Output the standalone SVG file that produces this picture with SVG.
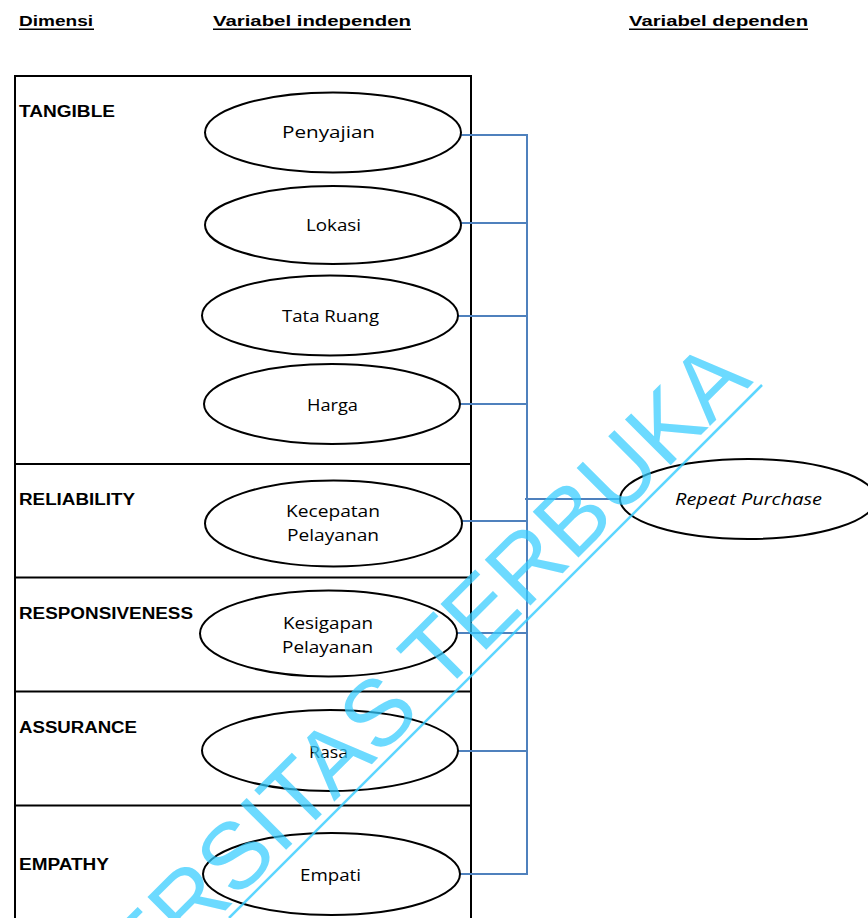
<svg xmlns="http://www.w3.org/2000/svg" width="868" height="918" viewBox="0 0 868 918">
<style>
.hdr{font-family:"Liberation Sans",Arial,sans-serif;font-weight:bold;font-size:15px;fill:#000}
.ul{stroke:#000;stroke-width:1.6}
.dim{font-family:"Liberation Sans",Arial,sans-serif;font-weight:bold;font-size:16px;fill:#000}
.box{fill:none;stroke:#000;stroke-width:2}
.ell{fill:#fff;stroke:#000;stroke-width:2}
.lbl{font-family:"Open Sans","Noto Sans",sans-serif;font-size:16px;fill:#000}
.con{stroke:#4F81BD;stroke-width:2;fill:none}
.wm{font-family:"Liberation Sans",Arial,sans-serif;font-size:94px;fill:#33CCFF;fill-opacity:0.72}
</style>
<rect width="868" height="918" fill="#fff"/>
<g id="headers">
<text class="hdr" x="19" y="26" textLength="74" lengthAdjust="spacingAndGlyphs">Dimensi</text>
<line class="ul" x1="19" y1="29.3" x2="94" y2="29.3"/>
<text class="hdr" x="213" y="26" textLength="198" lengthAdjust="spacingAndGlyphs">Variabel independen</text>
<line class="ul" x1="213" y1="29.3" x2="411" y2="29.3"/>
<text class="hdr" x="629" y="26" textLength="179" lengthAdjust="spacingAndGlyphs">Variabel dependen</text>
<line class="ul" x1="629" y1="29.3" x2="808" y2="29.3"/>
</g>
<g id="dimension-table">
<path class="box" d="M15,920 V76 H471 V920"/>
<line class="box" x1="15" y1="464" x2="471" y2="464"/>
<line class="box" x1="15" y1="577.5" x2="471" y2="577.5"/>
<line class="box" x1="15" y1="691.5" x2="471" y2="691.5"/>
<line class="box" x1="15" y1="805.5" x2="471" y2="805.5"/>
<text class="dim" x="19" y="117" textLength="96" lengthAdjust="spacingAndGlyphs">TANGIBLE</text>
<text class="dim" x="19" y="505" textLength="116" lengthAdjust="spacingAndGlyphs">RELIABILITY</text>
<text class="dim" x="19" y="619" textLength="174" lengthAdjust="spacingAndGlyphs">RESPONSIVENESS</text>
<text class="dim" x="19" y="733" textLength="118" lengthAdjust="spacingAndGlyphs">ASSURANCE</text>
<text class="dim" x="19" y="870" textLength="90" lengthAdjust="spacingAndGlyphs">EMPATHY</text>
</g>
<g id="connectors">
<line class="con" x1="527" y1="135" x2="527" y2="875"/>
<line class="con" x1="461" y1="135" x2="528" y2="135"/>
<line class="con" x1="461" y1="223" x2="528" y2="223"/>
<line class="con" x1="458" y1="316" x2="528" y2="316"/>
<line class="con" x1="460" y1="404" x2="528" y2="404"/>
<line class="con" x1="462" y1="521" x2="528" y2="521"/>
<line class="con" x1="457" y1="633" x2="528" y2="633"/>
<line class="con" x1="458" y1="751" x2="528" y2="751"/>
<line class="con" x1="460" y1="874" x2="528" y2="874"/>
<line class="con" x1="525" y1="499" x2="620" y2="499"/>
</g>
<g id="node-penyajian">
<ellipse class="ell" cx="333" cy="132.5" rx="128" ry="40"/>
<text class="lbl" x="282" y="138" textLength="93" lengthAdjust="spacingAndGlyphs">Penyajian</text>
</g>
<g id="node-lokasi">
<ellipse class="ell" cx="333" cy="225" rx="128" ry="39"/>
<text class="lbl" x="306" y="231" textLength="55" lengthAdjust="spacingAndGlyphs">Lokasi</text>
</g>
<g id="node-tata-ruang">
<ellipse class="ell" cx="330" cy="315.5" rx="128" ry="40"/>
<text class="lbl" x="282" y="322" textLength="97" lengthAdjust="spacingAndGlyphs">Tata Ruang</text>
</g>
<g id="node-harga">
<ellipse class="ell" cx="332" cy="404" rx="128" ry="40"/>
<text class="lbl" x="307" y="411" textLength="51" lengthAdjust="spacingAndGlyphs">Harga</text>
</g>
<g id="node-kecepatan">
<ellipse class="ell" cx="333.5" cy="523.5" rx="128.5" ry="43"/>
<text class="lbl" x="286" y="517" textLength="94" lengthAdjust="spacingAndGlyphs">Kecepatan</text>
<text class="lbl" x="287" y="541" textLength="92" lengthAdjust="spacingAndGlyphs">Pelayanan</text>
</g>
<g id="node-kesigapan">
<ellipse class="ell" cx="328.5" cy="633.5" rx="128.5" ry="43"/>
<text class="lbl" x="283" y="629" textLength="90" lengthAdjust="spacingAndGlyphs">Kesigapan</text>
<text class="lbl" x="282" y="653" textLength="91" lengthAdjust="spacingAndGlyphs">Pelayanan</text>
</g>
<g id="node-rasa">
<ellipse class="ell" cx="330" cy="750.5" rx="128" ry="40.5"/>
<text class="lbl" x="309" y="758" textLength="39" lengthAdjust="spacingAndGlyphs">Rasa</text>
</g>
<g id="node-empati">
<ellipse class="ell" cx="331.5" cy="874" rx="128.5" ry="41"/>
<text class="lbl" x="300" y="881" textLength="61" lengthAdjust="spacingAndGlyphs">Empati</text>
</g>
<g id="node-repeat-purchase">
<ellipse class="ell" cx="748" cy="499" rx="128" ry="40"/>
<text class="lbl" x="675" y="505" font-style="italic" textLength="147" lengthAdjust="spacingAndGlyphs">Repeat Purchase</text>
</g>
<g id="watermark">
<text class="wm" x="754" y="382" text-anchor="end" transform="rotate(-45 754 382)">UNIVERSITAS TERBUKA</text>
<line x1="762" y1="385" x2="229" y2="918" stroke="#33CCFF" stroke-opacity="0.8" stroke-width="2.5"/>
</g>
</svg>
